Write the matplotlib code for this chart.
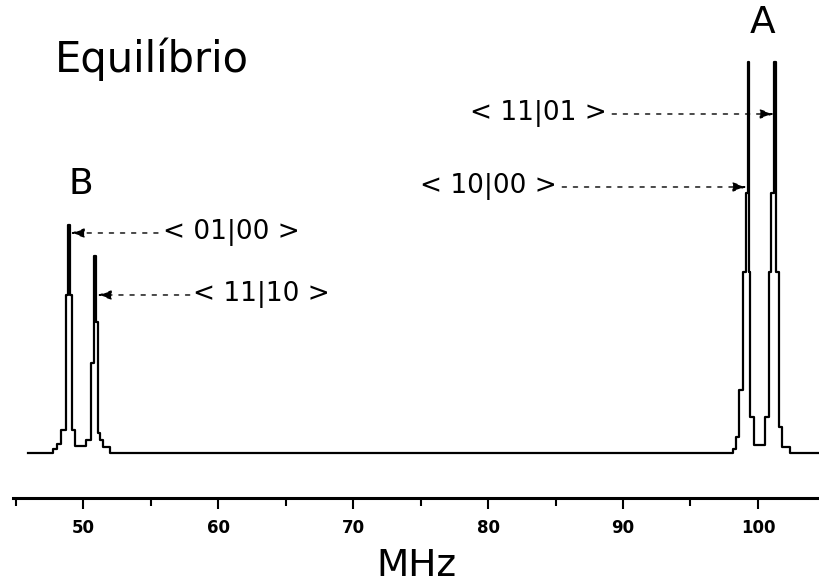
import matplotlib
matplotlib.use("Agg")
import matplotlib.pyplot as plt
from matplotlib.ticker import MultipleLocator

## spectrum (step outline), MHz vs intensity (a.u.)
freq_b = [45.93, 47.78, 48.07, 48.37, 48.70, 48.89, 49.00, 49.21, 49.41,
          50.22, 50.56, 50.81, 50.96, 51.11, 51.26, 51.48, 52.00]
inten_b = [0, 4, 9, 23, 158, 228, 158, 23, 7,
           13, 90, 197, 131, 20, 13, 6, 0]

freq_a = [98.15, 98.37, 98.59, 98.89, 99.11, 99.26, 99.37, 99.44, 99.70,
          100.52, 100.81, 100.96, 101.22, 101.33, 101.56, 101.78, 102.37, 104.52]
inten_a = [4, 16, 63, 181, 260, 391, 181, 36, 8,
           36, 181, 260, 391, 181, 26, 6, 0, 0]

## transition labels
trans_labels = ['< 01|00 >', '< 11|10 >', '< 11|01 >', '< 10|00 >']
trans_text_x = [55.93, 58.15, 88.81, 85.11]
trans_y = [220, 158, 339, 266]
trans_ha = ['left', 'left', 'right', 'right']
arrow_from_x = [55.55, 57.90, 89.20, 85.50]
arrow_to_x = [49.05, 51.05, 101.20, 99.18]

ticks_major = [50, 60, 70, 80, 90, 100]

fig = plt.figure(figsize=(8.19, 5.88), dpi=100)
ax = fig.add_axes([0.0159, 0.1531, 0.9841, 0.8469])

ax.plot(freq_b + freq_a, inten_b + inten_a, color='black', lw=1.6,
        drawstyle='steps-post')

ax.set_xlim(44.81, 104.52)
ax.set_ylim(-45, 453)

for s in ['left', 'right', 'top']:
    ax.spines[s].set_visible(False)
ax.spines['bottom'].set_linewidth(2.2)
ax.set_yticks([])
ax.set_xticks(ticks_major)
ax.xaxis.set_minor_locator(MultipleLocator(5))
ax.tick_params(axis='x', which='major', length=8, width=1.5, pad=7)
ax.tick_params(axis='x', which='minor', length=6, width=1.5)
for lab in ax.get_xticklabels():
    lab.set_fontsize(12)
    lab.set_fontweight('bold')
ax.set_xlabel('MHz', fontsize=27, labelpad=8)

ax.text(47.93, 381, 'Equilíbrio', fontsize=30, va='baseline', ha='left')
ax.text(100.3, 420, 'A', fontsize=27, va='baseline', ha='center')
ax.text(49.8, 259, 'B', fontsize=26, va='baseline', ha='center')

for lab, tx, y, ha, x0, x1 in zip(trans_labels, trans_text_x, trans_y,
                                  trans_ha, arrow_from_x, arrow_to_x):
    ax.text(tx, y, lab, fontsize=19, va='center', ha=ha)
    ax.annotate('', xy=(x1, y), xytext=(x0, y),
                arrowprops=dict(arrowstyle='-|>,head_length=0.6,head_width=0.2',
                                color='black', lw=1, linestyle=(0, (3, 5)),
                                shrinkA=0, shrinkB=0, mutation_scale=14))

plt.savefig('out.png', dpi=100)
